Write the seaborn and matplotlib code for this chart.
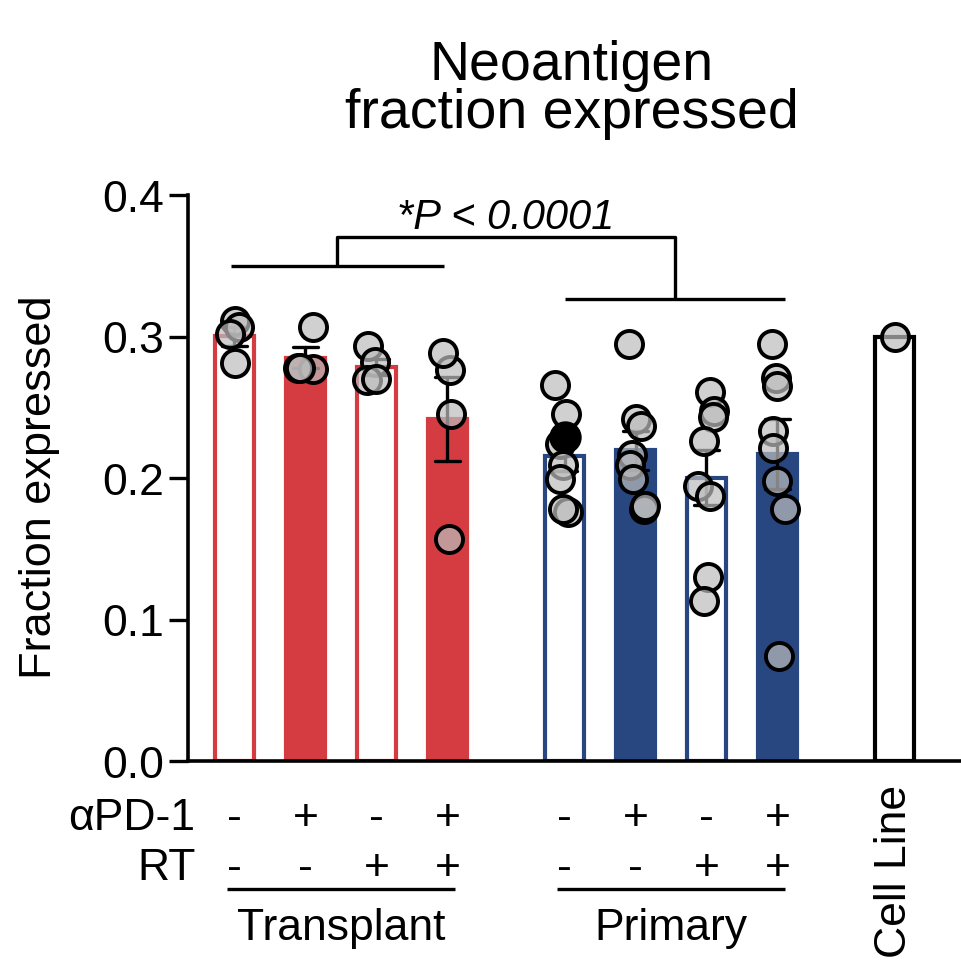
import numpy as np
import pandas as pd
import matplotlib.pyplot as plt
import seaborn as sns

# values
transplant = [
    [0.311, 0.307, 0.302, 0.281],
    [0.307, 0.277, 0.278, 0.278],
    [0.293, 0.282, 0.269, 0.270],
    [0.276, 0.288, 0.245, 0.157],
]
primary = [
    [0.266, 0.245, 0.229, 0.224, 0.209, 0.199, 0.176, 0.178],
    [0.295, 0.242, 0.237, 0.216, 0.209, 0.199, 0.178, 0.180],
    [0.261, 0.247, 0.243, 0.226, 0.194, 0.187, 0.130, 0.113],
    [0.295, 0.271, 0.265, 0.233, 0.221, 0.198, 0.178, 0.074],
]
cell_line = [0.30]
highlight = (0, 2)   # primary group 0, point 2 drawn black

apd1 = ['-', '+', '-', '+']
rt = ['-', '-', '+', '+']
group_names = ['Transplant', 'Primary']

red = '#d43c41'
blue = '#284780'

# ---- build table ----
starts = [0, 4.65]
rows = []
for g, groups in enumerate([transplant, primary]):
    for i, vals in enumerate(groups):
        for j, v in enumerate(vals):
            mark = 'black' if (g == 1 and (i, j) == highlight) else 'grey'
            rows.append(dict(x=starts[g] + i, val=v, mark=mark))
cell_x = 9.3
for v in cell_line:
    rows.append(dict(x=cell_x, val=v, mark='grey'))
df = pd.DataFrame(rows)

sns.set_style('ticks')
plt.rcParams['font.family'] = ['Liberation Sans', 'DejaVu Sans']
for key in ['text.color', 'axes.labelcolor', 'axes.edgecolor',
            'xtick.color', 'ytick.color']:
    plt.rcParams[key] = 'black'

fig = plt.figure(figsize=(9.62, 9.62), dpi=100)
ax = fig.add_axes([188 / 962, 200 / 962, 774 / 962, 566 / 962])

sns.barplot(data=df, x='x', y='val', native_scale=True, errorbar='se',
            width=0.55, capsize=0.35,
            err_kws={'color': 'black', 'linewidth': 2.4}, ax=ax)

faces = ['white', red, 'white', red, 'white', blue, 'white', blue, 'white']
edges = [red, red, red, red, blue, blue, blue, blue, 'black']
bars = sorted(ax.patches, key=lambda p: p.get_x())
for p, fc, ec in zip(bars, faces, edges):
    p.set_facecolor(fc)
    p.set_edgecolor(ec)
    p.set_linewidth(3)

np.random.seed(3)
sns.stripplot(data=df[df['mark'] == 'grey'], x='x', y='val', native_scale=True,
              color='#bdbdbd', jitter=0.14, size=19.5, linewidth=2.8,
              edgecolor='black', ax=ax)
for coll in ax.collections:
    coll.set_facecolor((0.74, 0.74, 0.74, 0.7))
    coll.set_edgecolor('black')
    coll.set_zorder(3)
n_grey = len(ax.collections)

np.random.seed(7)
sns.stripplot(data=df[df['mark'] == 'black'], x='x', y='val', native_scale=True,
              color='black', jitter=0.14, size=20.5, linewidth=2.8,
              edgecolor='black', ax=ax)
for coll in ax.collections[n_grey:]:
    coll.set_zorder(4)

# ---- axes ----
ax.set_ylim(0, 0.4)
ax.set_xlim(-0.655, 10.25)
ax.set_yticks([0, 0.1, 0.2, 0.3, 0.4])
ax.set_yticklabels(['0.0', '0.1', '0.2', '0.3', '0.4'])
ax.set_xticks([])
ax.set_xlabel('')
ax.set_ylabel('Fraction expressed', fontsize=32.5)
ax.yaxis.set_label_coords(-0.165, 0.486)
ax.tick_params(axis='y', length=14, width=2.4, labelsize=32, pad=3)
sns.despine(ax=ax)
for s in ['left', 'bottom']:
    ax.spines[s].set_linewidth(2.6)

fig.text(572 / 962, 1 - 40 / 962, 'Neoantigen\nfraction expressed',
         ha='center', va='top', fontsize=40, linespacing=0.9)

# ---- significance bracket ----
lw = 2.4
kw = dict(color='black', lw=lw, clip_on=False, solid_capstyle='butt')
t0, t1 = starts[0] - 0.05, starts[0] + 3 - 0.05
p0, p1 = starts[1], starts[1] + 3.1
tm, pm = (t0 + t1) / 2, (p0 + p1) / 2
ax.plot([t0, t1], [0.35, 0.35], **kw)
ax.plot([p0, p1], [0.3265, 0.3265], **kw)
ax.plot([tm, tm, pm, pm], [0.35, 0.37, 0.37, 0.3265], **kw)
ax.text((tm + pm) / 2, 0.377, '*P < 0.0001', style='italic', fontsize=30,
        ha='center', va='baseline')

# ---- treatment labels below axis ----
y1, y2, yl, yg = -0.040, -0.075, -0.0905, -0.118
ax.text(-0.55, y1, 'αPD-1', ha='right', va='center', fontsize=32, clip_on=False)
ax.text(-0.55, y2, 'RT', ha='right', va='center', fontsize=32, clip_on=False)
for g, name in enumerate(group_names):
    for i in range(4):
        xx = starts[g] + i
        ax.text(xx, y1, apd1[i], ha='center', va='center', fontsize=32)
        ax.text(xx, y2, rt[i], ha='center', va='center', fontsize=32)
    ax.plot([starts[g] - 0.1, starts[g] + 3.1], [yl, yl], **kw)
    ax.text(starts[g] + 1.5, yg, name, ha='center', va='center', fontsize=32)
ax.text(cell_x, -0.077, 'Cell Line', rotation=90, ha='center', va='center',
        fontsize=32)

fig.savefig('out.png', dpi=100)
